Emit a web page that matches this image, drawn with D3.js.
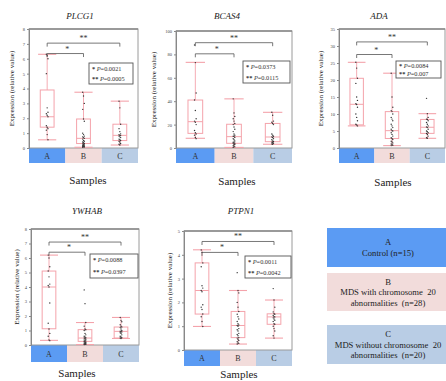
<!DOCTYPE html>
<html><head><meta charset="utf-8">
<script src="https://cdn.jsdelivr.net/npm/d3@7"></script>
<style>body{margin:0;background:#fff}svg{display:block}</style>
</head><body>
<script>
// ---------- DATA ----------
const genes = ["PLCG1","BCAS4","ADA","YWHAB","PTPN1"];
const groups = ["A","B","C"];
const yMaxes = [8,100,35,8,5];
const yTickSteps = [1,20,5,1,1];
// box stats per gene: [min, q1, median, q3, max] for A, B, C
const statsPLCG1 = [[0.55,1.4,2.1,3.9,6.3],[0.05,0.3,0.65,1.95,3.75],[0.2,0.5,0.85,1.6,3.15]];
const statsBCAS4 = [[8.3,12.5,22.5,41,73.2],[0.5,4,9.7,20.3,42],[3.2,5.4,9.4,21,30.5]];
const statsADA   = [[6.5,6.8,12.85,20.5,25.2],[0.7,2.8,5.1,10.7,22],[2.85,4.3,6.1,8.4,10.1]];
const statsYWHAB = [[0.32,1.12,4.0,5.1,6.2],[0.03,0.25,0.48,1.06,1.55],[0.45,0.48,0.94,1.24,1.9]];
const statsPTPN1 = [[0.99,1.51,2.5,3.66,4.21],[0.25,0.52,1.03,1.62,2.5],[0.5,1.08,1.39,1.52,2.1]];
// individual points per gene: A, B, C
const ptsPLCG1 = [
 [6.3,6.2,6.0,5.0,2.7,2.4,2.3,2.2,2.1,1.5,1.4,1.3,1.2,0.9,0.55],
 [3.75,3.5,3.0,2.6,1.95,1.8,1.0,0.9,0.8,0.75,0.7,0.65,0.6,0.5,0.45,0.4,0.35,0.3,0.28,0.25,0.2,0.18,0.15,0.12,0.1,0.08,0.06,0.05],
 [3.15,2.7,1.6,1.3,1.1,0.95,0.9,0.85,0.85,0.8,0.75,0.7,0.6,0.55,0.5,0.45,0.4,0.3,0.25,0.2]];
const ptsBCAS4 = [
 [88,73,47,41,32,25,23,22,20,15,13,12,11,9,8],
 [42,30,27,25,23,21,20,18,16,14,12,11,10,10,9,8,7,6,5,5,4,4,3,3,2,1.5,1,0.5],
 [30.5,28,23,22,21,20,12,11,10,9.5,9,8,7,6,5.5,5,4.5,4,3.5,3.2]];
const ptsADA = [
 [25.2,23.5,20.5,19,15,14,13,12.8,12,10,9,8,7,6.8,6.5],
 [22,15,12,11,10.7,10,9,8.5,8,7,6.5,6,5.5,5.1,5,4.5,4,3.5,3,2.8,2.5,2,1.8,1.5,1.2,1,0.8,0.7],
 [14.6,10.1,9,8.5,8.4,8,7.5,7,6.5,6.2,6,5.5,5,4.8,4.5,4.3,4,3.5,3,2.85]];
const ptsYWHAB = [
 [6.2,6.0,5.4,5.1,4.7,4.2,4.1,4.0,2.9,1.5,1.1,0.8,0.6,0.35,0.3],
 [3.8,2.85,1.55,1.3,1.1,1.05,1.0,0.8,0.7,0.6,0.55,0.5,0.48,0.45,0.4,0.35,0.3,0.28,0.25,0.2,0.18,0.15,0.12,0.1,0.08,0.06,0.04,0.03],
 [1.9,1.7,1.6,1.4,1.3,1.24,1.2,1.1,1.0,0.95,0.94,0.9,0.85,0.8,0.7,0.6,0.55,0.5,0.48,0.45]];
const ptsPTPN1 = [
 [4.2,4.1,3.66,3.5,2.7,2.6,2.5,2.45,1.9,1.8,1.7,1.51,1.4,1.2,0.99],
 [3.25,2.5,2.4,2.0,1.8,1.62,1.5,1.4,1.3,1.2,1.1,1.05,1.03,1.0,0.9,0.85,0.8,0.7,0.65,0.6,0.52,0.5,0.45,0.4,0.35,0.3,0.28,0.25],
 [2.58,2.1,1.8,1.6,1.52,1.5,1.45,1.4,1.39,1.35,1.3,1.25,1.2,1.1,1.08,1.0,0.9,0.8,0.6,0.5]];
const allStats = [statsPLCG1,statsBCAS4,statsADA,statsYWHAB,statsPTPN1];
const allPts = [ptsPLCG1,ptsBCAS4,ptsADA,ptsYWHAB,ptsPTPN1];
// significance brackets (value levels): long A–C, short A–B
const bracketLong  = [7.05,90,31.2,7.1,4.56];
const bracketShort = [6.35,80.5,27.5,6.4,4.1];
const pSingle = ["0.0021","0.0373","0.0084","0.0088","0.0011"];
const pDouble = ["0.0005","0.0115","0.007","0.0397","0.0042"];
const legendLetters = ["A","B","C"];
const legendLines = [["Control (n=15)"],["MDS with chromosome  20","abnormalities  (n=28)"],["MDS without chromosome  20","abnormalities  (n=20)"]];

// ---------- LAYOUT ----------
const W=446,H=381;
const bandColors = ["#5b9bf3","#f2dcdb","#b9cde5"];
const layout = [
 {L:29,R:138,T:29,B:148,BB:163,tx:80,ty:19,sx:88,sy:184,yl:12,pb:[89,63,133,84]},
 {L:176,R:292,T:31,B:148,BB:163,tx:227,ty:19,sx:237,sy:185,yl:154,pb:[243,61,290,83]},
 {L:339,R:445,T:29,B:148,BB:163,tx:379,ty:19,sx:393,sy:186,yl:321,pb:[396,61,441,78]},
 {L:31,R:139,T:229,B:345,BB:362,tx:87,ty:214,sx:77,sy:377,yl:17,pb:[90,254,138,278]},
 {L:184,R:292,T:231,B:350,BB:366,tx:241,ty:214,sx:239,sy:378,yl:170,pb:[245,256,291,278]}
];
const serif = "'Liberation Serif','Times New Roman',serif";
const svg = d3.select("body").append("svg").attr("width",W).attr("height",H)
  .style("font-family",serif);

genes.forEach((g,gi)=>{
  const lo = layout[gi];
  const y = d3.scaleLinear().domain([0,yMaxes[gi]]).range([lo.B,lo.T]);
  const x = d3.scaleBand().domain(groups).range([lo.L,lo.R]);
  const G = svg.append("g");
  G.append("text").attr("x",lo.tx).attr("y",lo.ty).attr("text-anchor","middle")
    .attr("font-size",9).attr("font-style","italic").attr("fill","#222").text(g);
  groups.forEach((c,ci)=>{
    G.append("rect").attr("x",x(c)).attr("y",lo.B).attr("width",x.bandwidth()).attr("height",lo.BB-lo.B)
      .attr("fill",bandColors[ci]);
    G.append("text").attr("x",x(c)+x.bandwidth()/2).attr("y",(lo.B+lo.BB)/2+3)
      .attr("text-anchor","middle").attr("font-size",8).attr("fill","#333").text(c);
  });
  G.append("rect").attr("x",lo.L).attr("y",lo.T).attr("width",lo.R-lo.L).attr("height",lo.B-lo.T)
    .attr("fill","none").attr("stroke","#9a9a9a").attr("stroke-width",1);
  G.append("line").attr("x1",lo.L).attr("x2",lo.R).attr("y1",lo.T).attr("y2",lo.T)
    .attr("stroke","#8a8a8a").attr("stroke-width",1.5);
  const ticks = d3.range(0,yMaxes[gi]+1e-9,yTickSteps[gi]);
  const ax = G.append("g").attr("transform",`translate(${lo.L},0)`)
    .call(d3.axisLeft(y).tickValues(ticks).tickSize(2).tickPadding(2).tickFormat(d3.format("d")));
  ax.select(".domain").attr("stroke","#888");
  ax.selectAll(".tick line").attr("stroke","#888");
  ax.selectAll("text").attr("font-size",4.5).attr("fill","#444").attr("font-family",serif);
  G.append("text").attr("transform",`translate(${lo.yl},${(lo.T+lo.B)/2}) rotate(-90)`)
    .attr("text-anchor","middle").attr("dominant-baseline","central")
    .attr("font-size",7).attr("fill","#222").text("Expression (relative value)");
  const bw = x.bandwidth()*0.38, cw = x.bandwidth()*0.5;
  const pink = "#f4a3ab";
  groups.forEach((c,ci)=>{
    const s = allStats[gi][ci], cx = x(c)+x.bandwidth()/2;
    G.append("line").attr("x1",cx).attr("x2",cx).attr("y1",y(s[0])).attr("y2",y(s[1])).attr("stroke",pink).attr("stroke-width",0.9);
    G.append("line").attr("x1",cx).attr("x2",cx).attr("y1",y(s[3])).attr("y2",y(s[4])).attr("stroke",pink).attr("stroke-width",0.9);
    [s[0],s[4]].forEach(v=>G.append("line").attr("x1",cx-cw/2).attr("x2",cx+cw/2).attr("y1",y(v)).attr("y2",y(v))
      .attr("stroke",pink).attr("stroke-width",1.1));
    G.append("rect").attr("x",cx-bw/2).attr("y",y(s[3])).attr("width",bw).attr("height",y(s[1])-y(s[3]))
      .attr("fill","none").attr("stroke",pink).attr("stroke-width",1);
    G.append("line").attr("x1",cx-bw/2).attr("x2",cx+bw/2).attr("y1",y(s[2])).attr("y2",y(s[2]))
      .attr("stroke",pink).attr("stroke-width",1);
    G.selectAll(null).data(allPts[gi][ci]).enter().append("circle")
      .attr("cx",(d,i)=>cx+((i%3)-1)*0.8).attr("cy",d=>y(d)).attr("r",0.7).attr("fill","#333");
  });
  const cA = x("A")+x.bandwidth()/2, cB = x("B")+x.bandwidth()/2, cC = x("C")+x.bandwidth()/2;
  const bk = (x1,x2,v)=>{
    const yy=y(v);
    G.append("path").attr("d",`M${x1},${yy+3.5}V${yy}H${x2}V${yy+3.5}`).attr("fill","none")
      .attr("stroke","#555").attr("stroke-width",0.8);
  };
  bk(cA,cC,bracketLong[gi]); bk(cA,cB,bracketShort[gi]);
  G.append("text").attr("x",(cA+cB)/2+2).attr("y",y(bracketShort[gi])-2).attr("text-anchor","middle")
    .attr("font-size",8).attr("fill","#333").text("*");
  G.append("text").attr("x",cB).attr("y",y(bracketLong[gi])-2).attr("text-anchor","middle")
    .attr("font-size",8).attr("fill","#333").text("**");
  const [px1,py1,px2,py2] = lo.pb;
  G.append("rect").attr("x",px1).attr("y",py1).attr("width",px2-px1).attr("height",py2-py1)
    .attr("fill","#fff").attr("stroke","#555").attr("stroke-width",0.9);
  const rowH=(py2-py1)/2;
  [["*",pSingle[gi]],["**",pDouble[gi]]].forEach((r,ri)=>{
    const t = G.append("text").attr("x",px1+3).attr("y",py1+rowH*(ri+0.5)+2.3)
      .attr("font-size",6.3).attr("fill","#333");
    t.append("tspan").attr("font-weight","bold").text(r[0]+" ");
    t.append("tspan").attr("font-style","italic").text("P");
    t.append("tspan").text("=" + r[1]);
  });
  G.append("text").attr("x",lo.sx).attr("y",lo.sy).attr("text-anchor","middle")
    .attr("font-size",11).attr("fill","#222").text("Samples");
});

const legTop=[228,273,325], legBot=[267,311,364];
legendLetters.forEach((c,i)=>{
  svg.append("rect").attr("x",327).attr("y",legTop[i]).attr("width",W-327).attr("height",legBot[i]-legTop[i])
    .attr("fill",bandColors[i]);
  const lines=[c].concat(legendLines[i]);
  const n=lines.length, mid=(legTop[i]+legBot[i])/2, lh=10.5;
  lines.forEach((t,j)=>{
    svg.append("text").attr("x",388).attr("y",mid+(j-(n-1)/2)*lh+3)
      .attr("text-anchor","middle").attr("font-size",8.6).attr("fill","#222")
      .style("white-space","pre").text(t);
  });
});
</script>
</body></html>
